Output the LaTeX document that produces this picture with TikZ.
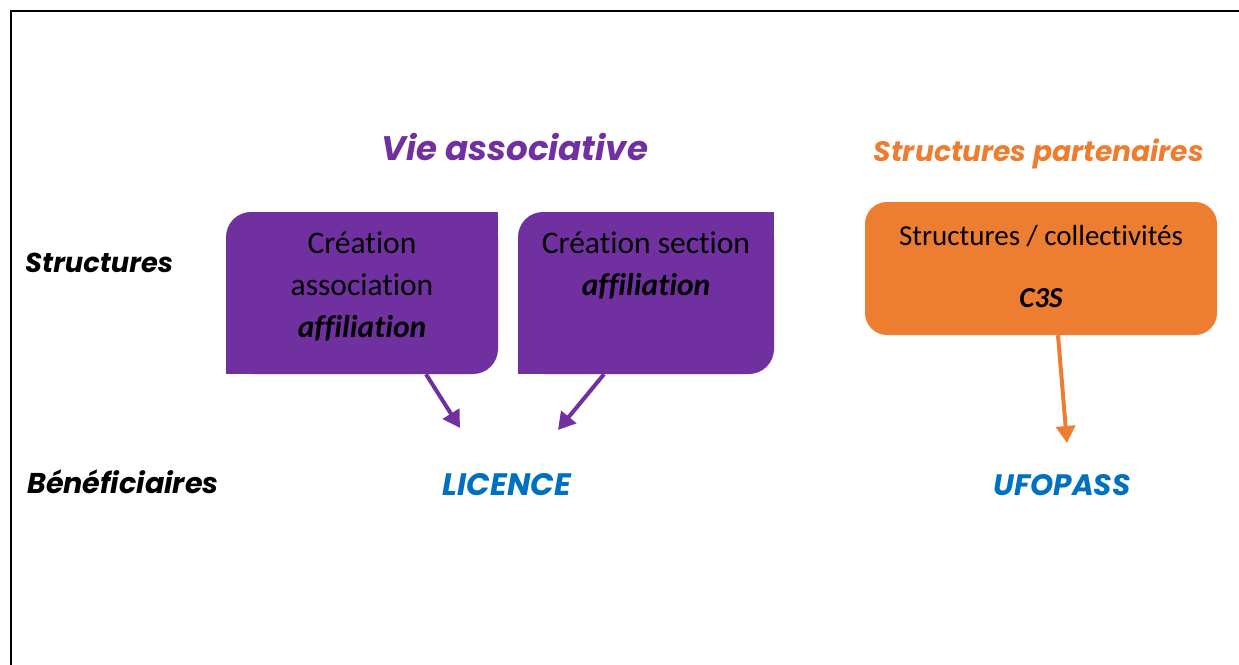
\documentclass[tikz,border=0pt]{standalone}
\usepackage{fontspec}
\setmainfont{Carlito}[Ligatures=CommonOff]
\newfontfamily\gothic{Poppins}
\usetikzlibrary{arrows.meta}

\definecolor{vpurple}{HTML}{7030A0}
\definecolor{sorange}{HTML}{ED7D31}
\definecolor{bblue}{HTML}{0070C0}

\tikzstyle{hS}=[inner sep=0pt,anchor=base,font=\gothic\bfseries\itshape]
\tikzstyle{vS}=[fill=vpurple,rounded corners=25pt,minimum height=162pt,inner sep=0pt]
\tikzstyle{oS}=[fill=sorange,rounded corners=22pt,minimum width=352pt,minimum height=133pt,inner sep=0pt]
\tikzstyle{tS}=[inner sep=0pt,anchor=north,align=center,font=\fontsize{31.5}{42}\selectfont]
\tikzstyle{aS}=[line width=4pt,-{Triangle[length=17pt,width=19pt]}]

\begin{document}
\begin{tikzpicture}[x=1pt,y=-1pt]
                \useasboundingbox (0,0) rectangle (1239,664);
                \draw[line width=2.5pt] (11,700) -- (11,11) -- (1280,11);
                % titres
                \draw (515,160) node[hS,text=vpurple,font=\gothic\bfseries\itshape\fontsize{34}{40}\selectfont] (tva) {Vie associative};
                \draw (1039,161) node[hS,text=sorange,font=\gothic\bfseries\itshape\fontsize{28.2}{34}\selectfont] (tsp) {Structures partenaires};
                \draw (25,272) node[hS,anchor=base west,font=\gothic\bfseries\itshape\fontsize{27.3}{32}\selectfont] (lst) {Structures};
                \draw (27,493) node[hS,anchor=base west,font=\gothic\bfseries\itshape\fontsize{28.6}{34}\selectfont] (lbe) {Bénéficiaires};
                % boites
                \draw (362,293) node[vS,minimum width=272pt] (b1) {};
                \draw (646,293) node[vS,minimum width=256pt] (b2) {};
                \draw (1041,268.5) node[oS] (b3) {};
                \fill[vpurple] (b1.north east) rectangle ++(-30,30);
                \fill[vpurple] (b1.south west) rectangle ++(30,-30);
                \fill[vpurple] (b2.north east) rectangle ++(-30,30);
                \fill[vpurple] (b2.south west) rectangle ++(30,-30);
                \draw (362,232) node[tS] (x1) {Création\\association\\\textbf{\textit{affiliation}}};
                \draw (646,232) node[tS] (x2) {Création section\\\textbf{\textit{affiliation}}};
                \draw (1041,225) node[tS,font=\fontsize{29}{62}\selectfont] (x3) {Structures / collectivités\\\textbf{\textit{C3S}}};
                % beneficiaires
                \draw (507,495) node[hS,text=bblue,font=\gothic\bfseries\itshape\fontsize{31}{36}\selectfont] (lic) {LICENCE};
                \draw (1062,495) node[hS,text=bblue,font=\gothic\bfseries\itshape\fontsize{29.5}{34}\selectfont] (ufo) {UFOPASS};
                \coordinate (p1) at (460,428);
                \coordinate (p2) at (558,430);
                \coordinate (p3) at (1067,443);
                \draw[aS,vpurple] ([xshift=64pt]b1.south) -- (p1);
                \draw[aS,vpurple] ([xshift=-42pt]b2.south) -- (p2);
                \draw[aS,sorange] ([xshift=17pt]b3.south) -- (p3);
\end{tikzpicture}
\end{document}
